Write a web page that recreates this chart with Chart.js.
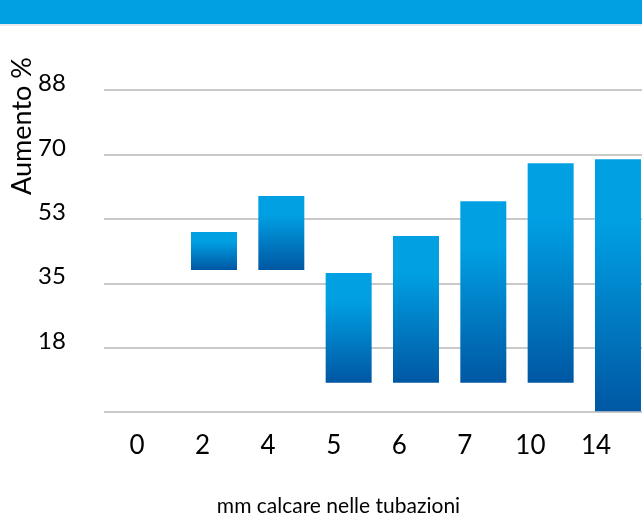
<!DOCTYPE html>
<html><head><meta charset="utf-8">
<script src="https://cdn.jsdelivr.net/npm/chart.js@4/dist/chart.umd.min.js"></script>
<style>
html,body{margin:0;padding:0;background:#fff;}
#wrap{position:relative;width:642px;height:517px;overflow:hidden;}
#banner{position:absolute;left:0;top:0;width:642px;height:24px;background:#00A0E3;border-bottom:2px solid #e8eaee;}
canvas{position:absolute;left:0;top:0;}
</style></head><body>
<div id="wrap"><canvas id="c" width="642" height="517"></canvas><div id="banner"></div></div>
<script>
// ---- data ----
const categories = ['0', '2', '4', '5', '6', '7', '10', '14'];
const barLow  = [null, 38.9, 38.9, 8.1, 8.1, 8.1, 8.1, 0];
const barHigh = [null, 49.3, 59.1, 38.1, 48.2, 57.7, 68.1, 69.2];
const yTickStep = 17.6;
const yMax = 105.6;
const yTitle = 'Aumento %';
const xTitle = 'mm calcare nelle tubazioni';

const LIGHT = '#00A0E3', DARK = '#0057A3';

const barData = categories.map((c, i) =>
  barLow[i] == null ? null : { x: i, y: [barLow[i], barHigh[i]] }).filter(Boolean);

const titlePlugin = {
  id: 'titles',
  afterDraw(chart) {
    const c = chart.ctx;
    c.save();
    c.fillStyle = '#000';
    c.textAlign = 'center';
    c.textBaseline = 'middle';
    c.font = '27px Lato';
    c.translate(22, 126);
    c.rotate(-Math.PI / 2);
    c.fillText(yTitle, 0, 0);
    c.restore();
    c.save();
    c.fillStyle = '#000';
    c.textAlign = 'center';
    c.textBaseline = 'middle';
    c.font = '21px Lato';
    c.fillText(xTitle, 338.5, 506);
    c.restore();
  }
};

new Chart(document.getElementById('c'), {
  type: 'bar',
  data: {
    datasets: [{
      data: barData,
      xAxisID: 'xb',
      yAxisID: 'y',
      borderWidth: 0,
      categoryPercentage: 1,
      barPercentage: 0.683,
      backgroundColor: (ctx) => {
        const chart = ctx.chart;
        if (ctx.type !== 'data' || !chart.chartArea || !ctx.raw) return LIGHT;
        const ys = chart.scales.y;
        const top = ys.getPixelForValue(ctx.raw.y[1]);
        const bot = ys.getPixelForValue(ctx.raw.y[0]);
        const g = chart.ctx.createLinearGradient(0, top, 0, bot);
        g.addColorStop(0, LIGHT);
        g.addColorStop(0.25, LIGHT);
        g.addColorStop(1, DARK);
        return g;
      }
    }]
  },
  options: {
    responsive: false,
    animation: false,
    devicePixelRatio: 1,
    layout: { padding: { top: 26, left: 38, right: 0, bottom: 0 } },
    plugins: { legend: { display: false }, tooltip: { enabled: false }, title: { display: false } },
    scales: {
      xb: {
        type: 'linear', display: false, offset: false,
        min: -0.6337, max: 7.3568,
        ticks: { stepSize: 1, includeBounds: false }
      },
      x: {
        type: 'linear', position: 'bottom', offset: false,
        min: -0.5033, max: 7.7017,
        grid: { display: false },
        border: { display: false },
        ticks: {
          stepSize: 1, includeBounds: false, maxRotation: 0, autoSkip: false,
          padding: 10, color: '#000',
          font: { family: 'Lato', size: 26 },
          callback: (v) => Number.isInteger(v) ? categories[v] : ''
        },
        afterFit: (s) => { s.height = 517 - 412.3; }
      },
      y: {
        type: 'linear', position: 'left',
        min: 0, max: yMax,
        grid: {
          color: (ctx) => (ctx.tick && ctx.tick.value > 100) ? 'rgba(0,0,0,0)' : '#c9c9c9',
          lineWidth: 2, drawTicks: false
        },
        border: { display: false },
        ticks: {
          stepSize: yTickStep, padding: 0, crossAlign: 'far', labelOffset: -7, color: '#000',
          font: { family: 'Lato', size: 24 },
          callback: (v) => (v <= 0 || v > 100) ? '' : String(Math.round(v))
        },
        afterFit: (s) => { s.width = 66; }
      }
    }
  },
  plugins: [titlePlugin]
});
</script>
</body></html>
